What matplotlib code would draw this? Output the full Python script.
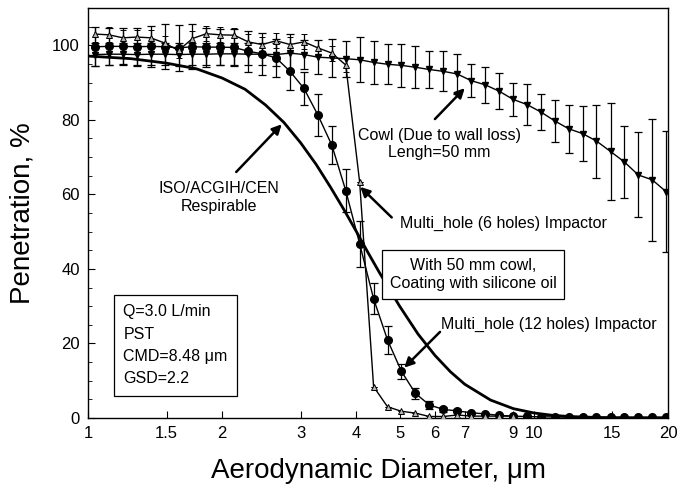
import matplotlib
matplotlib.use("Agg")
import matplotlib.pyplot as plt
from matplotlib.ticker import FixedLocator, FixedFormatter, MultipleLocator

plt.rcParams['font.family'] = ['Liberation Sans', 'DejaVu Sans']

# APS channel midpoints (um)
diam = [1.037, 1.114, 1.197, 1.286, 1.382, 1.486, 1.596, 1.715, 1.843, 1.981,
        2.129, 2.288, 2.458, 2.642, 2.839, 3.051, 3.278, 3.523, 3.786, 4.068,
        4.371, 4.698, 5.048, 5.425, 5.829, 6.264, 6.732, 7.234, 7.774, 8.354,
        8.977, 9.647, 10.37, 11.14, 11.97, 12.86, 13.82, 14.86, 15.96, 17.15,
        18.43, 19.81]

# Multi_hole (12 holes) impactor
pen12 = [99.6, 99.7, 99.7, 99.6, 99.7, 99.6, 99.3, 99.6, 99.5, 99.5,
         99.4, 98.4, 97.7, 96.6, 93.0, 88.4, 81.3, 73.2, 61.0, 46.7,
         32.0, 20.9, 12.5, 6.6, 3.5, 2.3, 1.9, 1.4, 1.1, 0.7,
         0.5, 0.4, 0.3, 0.3, 0.2, 0.2, 0.2, 0.2, 0.2, 0.2,
         0.2, 0.2]
err12 = [5.2, 5.0, 4.8, 5.0, 5.5, 6.0, 6.2, 6.0, 5.2, 4.8,
         5.0, 5.5, 5.6, 5.0, 5.0, 4.5, 5.6, 5.1, 5.8, 6.2,
         4.2, 3.7, 2.0, 1.5, 1.0, 0.6, 0.4, 0.3, 0.3, 0.3,
         0.2, 0.2, 0.0, 0.0, 0.0, 0.0, 0.0, 0.0, 0.0, 0.0,
         0.0, 0.0]

# Multi_hole (6 holes) impactor (first 31 channels)
pen6 = [103.0, 102.8, 102.0, 102.2, 102.0, 100.6, 98.6, 101.8, 103.1, 102.8,
        102.7, 100.9, 100.2, 101.2, 100.2, 100.9, 99.3, 97.9, 94.7, 63.2,
        8.4, 3.0, 1.8, 1.3, 0.4, 0.4, 0.8, 0.5, 0.5, 0.5,
        0.5]
err6 = [2.0, 2.0, 2.0, 2.0, 2.0, 2.0, 2.0, 2.0, 2.0, 2.0,
        2.0, 2.0, 2.0, 2.0, 2.0, 2.0, 2.0, 2.0, 2.0, 0.0,
        0.0, 0.0, 0.0, 0.0, 0.0, 0.0, 0.0, 0.0, 0.0, 0.0,
        0.0]

# Cowl (wall loss), length = 50 mm
pencowl = [97.5, 97.6, 97.6, 97.5, 97.6, 97.6, 97.5, 97.6, 97.6, 97.7,
           97.7, 97.6, 97.6, 97.5, 97.9, 97.5, 96.8, 96.6, 96.4, 96.1,
           95.4, 94.9, 94.6, 94.1, 93.5, 93.0, 92.3, 90.5, 89.4, 87.7,
           85.5, 84.1, 82.1, 79.7, 77.6, 76.3, 74.3, 71.5, 68.7, 65.2,
           63.9, 60.7]
errcowl = [3.0, 3.0, 3.0, 3.0, 3.0, 3.0, 3.0, 3.0, 3.0, 3.0,
           3.0, 3.0, 3.0, 3.0, 5.0, 4.0, 4.5, 5.0, 4.8, 6.0,
           5.7, 5.4, 5.8, 5.6, 5.0, 5.4, 5.4, 4.4, 4.8, 4.8,
           4.5, 5.5, 4.9, 5.6, 6.5, 7.3, 9.8, 13.0, 9.6, 11.4,
           16.3, 16.3]

# ISO/ACGIH/CEN respirable convention
resp_d = [1, 1.25, 1.5, 1.75, 2, 2.25, 2.5, 2.75, 3, 3.25, 3.5, 3.75, 4, 4.25,
          4.5, 5, 5.5, 6, 6.5, 7, 8, 9, 10, 11, 12, 14, 16, 20]
resp_p = [97.1, 96.4, 95.2, 93.7, 91.2, 88.2, 84.0, 79.3, 73.8, 68.0, 61.9, 55.9,
          50.0, 44.3, 39.1, 30.0, 22.5, 16.8, 12.4, 9.05, 4.8, 2.5, 1.35, 0.72,
          0.4, 0.12, 0.03, 0.0]

xticks = [1, 1.5, 2, 3, 4, 5, 6, 7, 9, 10, 15, 20]
xticklabels = ['1', '1.5', '2', '3', '4', '5', '6', '7', '9', '10', '15', '20']
yticks = [0, 20, 40, 60, 80, 100]

fig = plt.figure(figsize=(6.78, 4.96), dpi=100)
ax = fig.add_axes([0.1298, 0.1573, 0.8555, 0.8266])

ax.plot(resp_d, resp_p, color='black', lw=2.0, zorder=2)

ax.errorbar(diam, pencowl, yerr=errcowl, fmt='-v', color='black', mfc='black',
            mec='black', ms=5, lw=1.0, elinewidth=0.9, capsize=3, capthick=0.9,
            zorder=3)
ax.errorbar(diam, pen12, yerr=err12, fmt='-o', color='black', mfc='black',
            mec='black', ms=5.5, lw=1.0, elinewidth=0.9, capsize=3, capthick=0.9,
            zorder=4)
ax.errorbar(diam[:len(pen6)], pen6, yerr=err6, fmt='-^', color='black',
            mfc='#b4b4b4', mec='black', mew=0.7, ms=5, lw=1.0, elinewidth=0.9,
            capsize=2, capthick=0.9, zorder=5)

ax.set_xscale('log')
ax.set_xlim(1, 20)
ax.set_ylim(0, 110)
ax.xaxis.set_major_locator(FixedLocator(xticks))
ax.xaxis.set_major_formatter(FixedFormatter(xticklabels))
ax.xaxis.set_minor_locator(FixedLocator([]))
ax.yaxis.set_major_locator(FixedLocator(yticks))
ax.yaxis.set_minor_locator(MultipleLocator(5))
ax.tick_params(axis='both', which='both', direction='in', top=False, right=False,
               labelsize=12)
ax.tick_params(axis='both', which='major', length=5, pad=6)
ax.tick_params(axis='y', which='minor', length=3)
for s in ax.spines.values():
    s.set_linewidth(1.0)

ax.set_xlabel('Aerodynamic Diameter, μm', fontsize=20, labelpad=12)
ax.set_ylabel('Penetration, %', fontsize=20, labelpad=12)

arrow = dict(arrowstyle='-|>', color='black', lw=1.8, mutation_scale=14,
             shrinkA=0, shrinkB=0)
fs = 11.5
ax.annotate('', xy=(7.0, 88.5), xytext=(6.0, 80.2), arrowprops=arrow)
ax.text(6.13, 77.7, 'Cowl (Due to wall loss)\nLengh=50 mm', ha='center',
        va='top', fontsize=fs, linespacing=1.15)

ax.annotate('', xy=(2.72, 78.8), xytext=(2.15, 66.0), arrowprops=arrow)
ax.text(1.97, 63.5, 'ISO/ACGIH/CEN\nRespirable', ha='center', va='top',
        fontsize=fs, linespacing=1.2)

ax.annotate('', xy=(4.08, 62.0), xytext=(4.8, 53.8), arrowprops=arrow)
ax.text(5.01, 52.1, 'Multi_hole (6 holes) Impactor', ha='left', va='center',
        fontsize=fs)

ax.text(7.3, 38.5, 'With 50 mm cowl,\nCoating with silicone oil', ha='center',
        va='center', fontsize=fs, linespacing=1.3,
        bbox=dict(boxstyle='square,pad=0.5', fc='white', ec='black', lw=0.9))

ax.annotate('', xy=(5.12, 13.5), xytext=(6.16, 23.1), arrowprops=arrow)
ax.text(6.2, 25.0, 'Multi_hole (12 holes) Impactor', ha='left', va='center',
        fontsize=fs)

ax.text(1.2, 19.5, 'Q=3.0 L/min\nPST\nCMD=8.48 μm\nGSD=2.2', ha='left',
        va='center', fontsize=fs, linespacing=1.6,
        bbox=dict(boxstyle='square,pad=0.6', fc='white', ec='black', lw=0.9))

fig.savefig('out.png', dpi=100)
